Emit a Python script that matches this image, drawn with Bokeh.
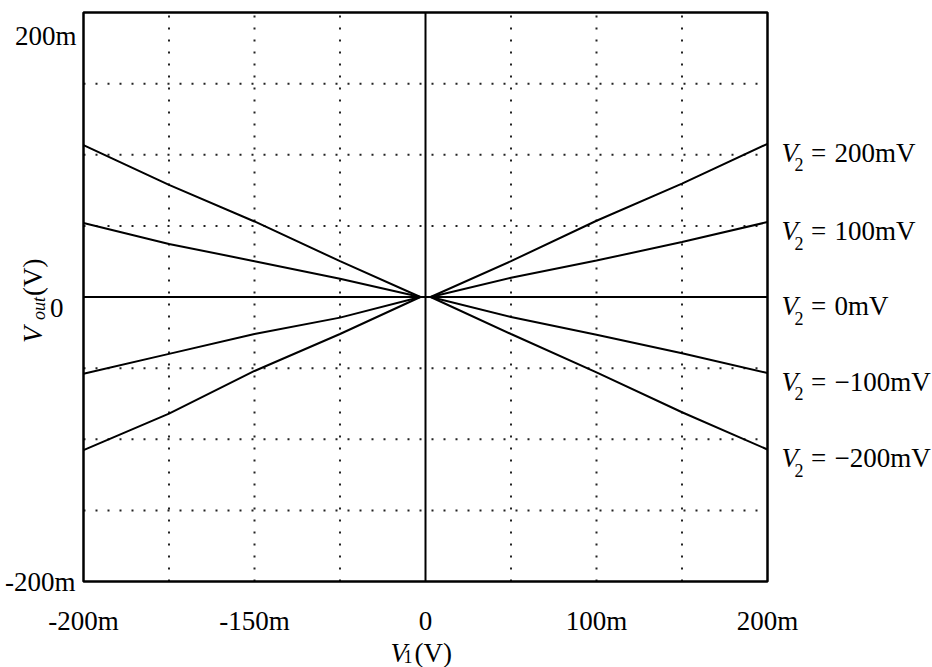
from math import pi
from bokeh.plotting import figure
from bokeh.models import Range1d, Label
from bokeh.embed import file_html
from bokeh.resources import INLINE

# ---- data ----
v1 = [-0.200, -0.150, -0.100, -0.050, -0.003, 0.003, 0.050, 0.100, 0.150, 0.200]
vout_p200 = [0.1068, 0.0788, 0.0531, 0.0252, 0.0, 0.0, 0.0252, 0.0536, 0.0797, 0.1077]
vout_p100 = [0.0520, 0.0373, 0.0252, 0.0128, 0.0, 0.0, 0.0135, 0.0256, 0.0387, 0.0527]
vout_0 = [0.0, 0.0, 0.0, 0.0, 0.0, 0.0, 0.0, 0.0, 0.0, 0.0]
vout_m100 = [-0.0540, -0.0400, -0.0260, -0.0145, 0.0, 0.0, -0.0140, -0.0266, -0.0396, -0.0534]
vout_m200 = [-0.1077, -0.0820, -0.0520, -0.0260, 0.0, 0.0, -0.0260, -0.0530, -0.0810, -0.1072]
v2_values = ["200mV", "100mV", "0mV", "\u2212100mV", "\u2212200mV"]

x_tick_pos = [-0.2, -0.1, 0.0, 0.1, 0.2]
x_tick_labels = ["-200m", "-150m", "0", "100m", "200m"]
y_tick_pos = [-0.2, 0.0, 0.2]
y_tick_labels = ["-200m", "0", "200m"]
grid_ticks = [-0.15, -0.10, -0.05, 0.05, 0.10, 0.15]
XMIN, XMAX = -0.2, 0.2
YMIN, YMAX = -0.2, 0.2

# ---- layout (pixels) ----
W, H = 932, 667
FL, FR, FT, FB = 83, 767, 12, 581   # plot box edges in canvas pixels
sx = (XMAX - XMIN) / (FR - FL)
sy = (YMAX - YMIN) / (FB - FT)
x_range = Range1d(XMIN - FL * sx, XMAX + (W - FR) * sx)
y_range = Range1d(YMIN - (H - FB) * sy, YMAX + FT * sy)

FONT = "Liberation Serif"
FS = "27px"
FS_SUB = "18px"

p = figure(width=W, height=H, x_range=x_range, y_range=y_range,
           x_axis_type=None, y_axis_type=None,
           output_backend="svg", toolbar_location=None,
           min_border=0, min_border_left=0, min_border_right=0,
           min_border_top=0, min_border_bottom=0)
p.outline_line_color = None
p.background_fill_color = "white"
p.border_fill_color = "white"

# dotted grid inside the box
p.segment(x0=grid_ticks, y0=[YMIN] * len(grid_ticks), x1=grid_ticks, y1=[YMAX] * len(grid_ticks),
          line_color="#222222", line_width=2, line_dash="2 10")
p.segment(x0=[XMIN] * len(grid_ticks), y0=grid_ticks, x1=[XMAX] * len(grid_ticks), y1=grid_ticks,
          line_color="#222222", line_width=2, line_dash="2 10")

# zero vertical line
p.segment(x0=[0], y0=[YMIN], x1=[0], y1=[YMAX], line_color="black", line_width=2)

all_series = [vout_p200, vout_p100, vout_0, vout_m100, vout_m200]
for ys in all_series:
    p.line(v1, ys, line_color="black", line_width=2)

# box
p.quad(left=[XMIN], right=[XMAX], bottom=[YMIN], top=[YMAX],
       fill_color=None, line_color="black", line_width=2.5)

def lab(x, y, text, dx=0, dy=0, size=FS, style="normal", align="left", angle=0.0):
    p.add_layout(Label(x=x, y=y, x_offset=dx, y_offset=dy, text=text, angle=angle,
                       text_font=FONT, text_font_size=size, text_font_style=style,
                       text_color="black", text_baseline="alphabetic", text_align=align))

# right-side series labels
for ys, txt in zip(all_series, v2_values):
    yend = ys[-1]
    lab(XMAX, yend, "V", 14, -9, style="italic")
    lab(XMAX, yend, "2", 27, -21, size=FS_SUB)
    lab(XMAX, yend, "=", 51, -9, align="center")
    lab(XMAX, yend, txt, 67, -9)

# x tick labels
for xp, t in zip(x_tick_pos, x_tick_labels):
    lab(xp, YMIN, t, 0, -39, align="center")

# y tick labels
ytick_dx = [-8, -20, -7]
ytick_dy = [0, -10.5, -23]
for yp, t, dx, dy in zip(y_tick_pos, y_tick_labels, ytick_dx, ytick_dy):
    lab(XMIN, yp, t, dx, dy, align="right")

# x axis label  V1 (V)
lab(0, YMIN, "V", -35, -71, style="italic")
lab(0, YMIN, "1", -22, -75, size=FS_SUB)
lab(0, YMIN, "(V)", -11, -71)

# y axis label  Vout (V), rotated
lab(XMIN, 0, "V", -51, -46, style="italic", angle=pi / 2)
lab(XMIN, 0, "out", -45, -23, size=FS_SUB, style="italic", angle=pi / 2)
lab(XMIN, 0, "(V)", -51, 1, angle=pi / 2)

open("out.html", "w").write(file_html(p, INLINE))
